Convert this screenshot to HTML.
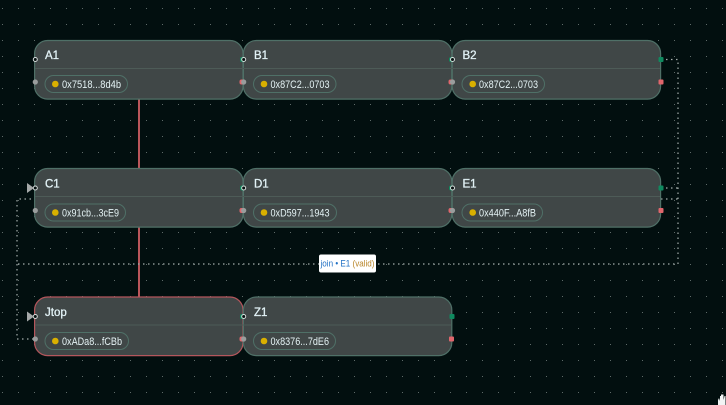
<!DOCTYPE html>
<html><head><meta charset="utf-8">
<style>
html,body{margin:0;padding:0;background:#020f0f;}
svg{display:block;}
text{font-family:"Liberation Sans",sans-serif;}
.t{font-size:11.5px;font-weight:400;fill:#e2f2f6;stroke:#e2f2f6;stroke-width:.3;}
.a{font-size:10.8px;fill:#e4f2f4;}
.n{fill:#404747;stroke:#4f7067;stroke-width:1.2;}
.d{stroke:#4d5b57;stroke-width:1;}
.p{fill:#404747;stroke:#4f7067;stroke-width:1;}
.c{fill:#d9b000;}
.w{fill:#05100f;stroke:#d8dcdc;stroke-width:1;}
.gp{fill:#9a9d9d;}
.o{fill:none;stroke:#a4adab;stroke-width:1.2;stroke-dasharray:1.5 3.5;}
</style></head>
<body>
<svg width="726" height="405" viewBox="0 0 726 405" xmlns="http://www.w3.org/2000/svg">
<defs><pattern id="g" x="2" y="8" width="16" height="16" patternUnits="userSpaceOnUse"><rect width="1" height="1" fill="#5f6b69"/></pattern></defs>
<rect width="726" height="405" fill="#020f0f"/>
<rect width="726" height="405" fill="url(#g)"/>

<line x1="139" y1="99" x2="139" y2="297" stroke="#e8686e" stroke-width="1.6"/>
<path class="o" d="M661 59.5H678V264H17V199H34"/>
<path class="o" d="M17 264V339H34"/>
<path class="o" d="M661 188H678"/>
<path class="o" d="M661 199H678"/>

<rect class="n" x="34.6" y="40.5" width="208.4" height="58.6" rx="13"/>
<rect class="n" x="243.4" y="40.5" width="208.4" height="58.6" rx="13"/>
<rect class="n" x="452.2" y="40.5" width="208.4" height="58.6" rx="13"/>
<rect class="n" x="34.6" y="168.5" width="208.4" height="58.6" rx="13"/>
<rect class="n" x="243.4" y="168.5" width="208.4" height="58.6" rx="13"/>
<rect class="n" x="452.2" y="168.5" width="208.4" height="58.6" rx="13"/>
<rect class="n" x="34.6" y="297" width="208.4" height="58.6" rx="13" style="stroke:#b4565c"/>
<rect class="n" x="243.4" y="297" width="208.4" height="58.6" rx="13"/>

<line class="d" x1="35" y1="68.5" x2="660" y2="68.5"/>
<line class="d" x1="35" y1="196.5" x2="660" y2="196.5"/>
<line class="d" x1="35" y1="325" x2="451" y2="325"/>

<!-- pills -->
<rect class="p" x="45" y="75.5" width="82.5" height="17" rx="8.5"/>
<rect class="p" x="253.5" y="75.5" width="82.5" height="17" rx="8.5"/>
<rect class="p" x="462" y="75.5" width="82.5" height="17" rx="8.5"/>
<rect class="p" x="45" y="204" width="80.5" height="17" rx="8.5"/>
<rect class="p" x="253.5" y="204" width="83" height="17" rx="8.5"/>
<rect class="p" x="462" y="204" width="80.5" height="17" rx="8.5"/>
<rect class="p" x="45" y="332.5" width="83.5" height="17" rx="8.5"/>
<rect class="p" x="253.5" y="332.5" width="82" height="17" rx="8.5"/>

<circle class="c" cx="55.3" cy="84" r="3.3"/><circle class="c" cx="264" cy="84" r="3.3"/><circle class="c" cx="472.7" cy="84" r="3.3"/>
<circle class="c" cx="55.3" cy="212.5" r="3.3"/><circle class="c" cx="264" cy="212.5" r="3.3"/><circle class="c" cx="472.7" cy="212.5" r="3.3"/>
<circle class="c" cx="55.3" cy="341" r="3.3"/><circle class="c" cx="264" cy="341" r="3.3"/>

<text class="t" x="45" y="59">A1</text>
<text class="t" x="254" y="59">B1</text>
<text class="t" x="462.5" y="59">B2</text>
<text class="t" x="45" y="187.5">C1</text>
<text class="t" x="254" y="187.5">D1</text>
<text class="t" x="462.5" y="187.5">E1</text>
<text class="t" x="45" y="316">Jtop</text>
<text class="t" x="254" y="316">Z1</text>

<text class="a" x="62" y="88" textLength="59" lengthAdjust="spacingAndGlyphs">0x7518...8d4b</text>
<text class="a" x="270.5" y="88" textLength="59" lengthAdjust="spacingAndGlyphs">0x87C2...0703</text>
<text class="a" x="479" y="88" textLength="59" lengthAdjust="spacingAndGlyphs">0x87C2...0703</text>
<text class="a" x="62" y="216.5" textLength="57" lengthAdjust="spacingAndGlyphs">0x91cb...3cE9</text>
<text class="a" x="270.5" y="216.5" textLength="59" lengthAdjust="spacingAndGlyphs">0xD597...1943</text>
<text class="a" x="479" y="216.5" textLength="57" lengthAdjust="spacingAndGlyphs">0x440F...A8fB</text>
<text class="a" x="62" y="345" textLength="60" lengthAdjust="spacingAndGlyphs">0xADa8...fCBb</text>
<text class="a" x="270.5" y="345" textLength="58.5" lengthAdjust="spacingAndGlyphs">0x8376...7dE6</text>

<!-- output ports -->
<g fill="#0f8a5f">
<rect x="240" y="57" width="5" height="5" rx="2"/><rect x="449" y="57" width="5" height="5" rx="2"/><rect x="658.5" y="57" width="5" height="5" rx="1"/>
<rect x="240" y="185.5" width="5" height="5" rx="2"/><rect x="449" y="185.5" width="5" height="5" rx="2"/><rect x="658.5" y="185.5" width="5" height="5" rx="1"/>
<rect x="240" y="314" width="5" height="5" rx="2"/><rect x="449.5" y="314" width="5" height="5" rx="1"/>
</g>
<g fill="#e0666c">
<rect x="239.5" y="79.5" width="5" height="5" rx="2"/><rect x="448.500" y="79.5" width="5" height="5" rx="2"/><rect x="658.5" y="79.5" width="5" height="5" rx="1"/>
<rect x="239.5" y="208" width="5" height="5" rx="2"/><rect x="448.500" y="208" width="5" height="5" rx="2"/><rect x="658.5" y="208" width="5" height="5" rx="1"/>
<rect x="239.5" y="336.5" width="5" height="5" rx="2"/><rect x="449" y="336.5" width="5" height="5" rx="1"/>
</g>
<!-- input ports -->
<circle class="w" cx="35.3" cy="59.5" r="2"/><circle class="w" cx="243.7" cy="59.5" r="2"/><circle class="w" cx="452.5" cy="59.5" r="2"/>
<circle class="w" cx="35.3" cy="188" r="2"/><circle class="w" cx="243.7" cy="188" r="2"/><circle class="w" cx="452.5" cy="188" r="2"/>
<circle class="w" cx="35.3" cy="316.5" r="2"/><circle class="w" cx="243.7" cy="316.5" r="2"/>
<g class="gp">
<circle cx="35.3" cy="82" r="2.6"/><circle cx="243.7" cy="82" r="2.6"/><circle cx="452.5" cy="82" r="2.6"/>
<circle cx="35.3" cy="210.5" r="2.6"/><circle cx="243.7" cy="210.5" r="2.6"/><circle cx="452.5" cy="210.5" r="2.6"/>
<circle cx="35.3" cy="339" r="2.6"/><circle cx="243.7" cy="339" r="2.6"/>
</g>
<!-- arrowheads -->
<polygon points="27,183 27,193 34,188" fill="#a6a9a9"/>
<polygon points="27,311.5 27,321.5 34,316.5" fill="#a6a9a9"/>

<!-- label -->
<rect x="319" y="254.5" width="57" height="18" rx="2" fill="#ffffff"/>
<text x="320.5" y="266.5" font-size="9" textLength="54" lengthAdjust="spacingAndGlyphs"><tspan fill="#1f6fc4">join • E1 </tspan><tspan fill="#b9862a">(valid)</tspan></text>

<!-- cursor -->
<path d="M718 405V400L719 398L720 401V396H721V400V394.500H722V400V394.500H723.500V400L724.500 396H725.500V405Z" fill="#f2f4f4"/>
</svg>
</body></html>
